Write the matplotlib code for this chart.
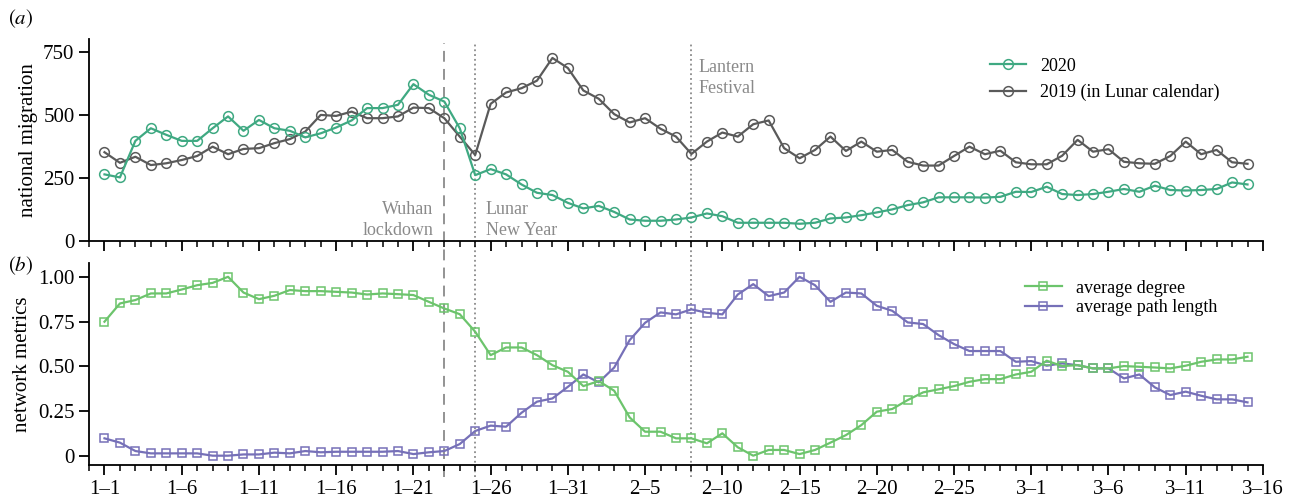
import matplotlib
matplotlib.use('Agg')
import matplotlib.pyplot as plt
from matplotlib.lines import Line2D
from matplotlib.transforms import blended_transform_factory
from matplotlib.ticker import MultipleLocator

plt.rcParams['font.family'] = ['Liberation Serif', 'DejaVu Serif']
plt.rcParams['mathtext.fontset'] = 'stix'

# dates 1-1 .. 3-15 (2020)
tick_labels = ['1–1', '1–6', '1–11', '1–16', '1–21', '1–26', '1–31', '2–5',
               '2–10', '2–15', '2–20', '2–25', '3–1', '3–6', '3–11', '3–16']

mig_2020 = [264, 252, 397, 447, 421, 397, 397, 447, 494, 437, 480, 447, 437, 411, 427,
            450, 478, 527, 527, 540, 622, 580, 553, 447, 261, 285, 264, 224, 191, 182,
            151, 129, 139, 115, 85, 80, 80, 85, 93, 109, 98, 72, 72, 72, 72,
            68, 72, 89, 93, 102, 113, 125, 142, 153, 173, 173, 173, 172, 175, 195,
            194, 215, 186, 182, 186, 195, 206, 195, 219, 202, 200, 202, 206, 232, 224]

mig_2019 = [352, 310, 334, 301, 308, 321, 337, 374, 344, 365, 368, 388, 404, 434, 500,
            496, 513, 487, 487, 494, 529, 527, 487, 414, 341, 544, 589, 606, 636, 726,
            686, 597, 564, 503, 470, 487, 445, 414, 345, 394, 430, 414, 463, 478, 368,
            328, 361, 414, 357, 394, 354, 361, 314, 299, 299, 337, 374, 344, 358, 312,
            304, 304, 338, 401, 354, 364, 314, 308, 306, 337, 394, 344, 361, 312, 306]

avg_degree = [0.749, 0.851, 0.870, 0.907, 0.907, 0.929, 0.953, 0.966, 1.0, 0.912,
              0.875, 0.894, 0.926, 0.920, 0.920, 0.916, 0.912, 0.901, 0.907, 0.903,
              0.898, 0.860, 0.823, 0.791, 0.693, 0.562, 0.605, 0.605, 0.562, 0.506,
              0.469, 0.389, 0.417, 0.363, 0.214, 0.134, 0.134, 0.097, 0.097, 0.069,
              0.125, 0.047, 0.0, 0.032, 0.032, 0.009, 0.032, 0.073, 0.115, 0.171,
              0.246, 0.261, 0.311, 0.354, 0.371, 0.389, 0.413, 0.428, 0.428, 0.454,
              0.469, 0.531, 0.501, 0.506, 0.488, 0.488, 0.501, 0.497, 0.493, 0.488,
              0.503, 0.525, 0.538, 0.538, 0.553]

avg_path = [0.097, 0.073, 0.026, 0.013, 0.013, 0.013, 0.013, 0.0, 0.0, 0.007,
            0.007, 0.017, 0.013, 0.026, 0.019, 0.022, 0.022, 0.022, 0.022, 0.026,
            0.009, 0.019, 0.026, 0.065, 0.138, 0.168, 0.162, 0.240, 0.302, 0.320,
            0.385, 0.454, 0.410, 0.493, 0.646, 0.743, 0.801, 0.790, 0.818, 0.799,
            0.790, 0.901, 0.959, 0.892, 0.912, 1.0, 0.953, 0.860, 0.912, 0.907,
            0.838, 0.810, 0.745, 0.736, 0.674, 0.624, 0.585, 0.585, 0.585, 0.525,
            0.529, 0.503, 0.516, 0.506, 0.488, 0.488, 0.432, 0.454, 0.382, 0.339,
            0.358, 0.335, 0.315, 0.315, 0.298]

days = list(range(len(mig_2020)))
events = [(22, 'Wuhan\nlockdown', (0, (6, 4))), (24, 'Lunar\nNew Year', ':'), (38, 'Lantern\nFestival', ':')]

c_2020 = '#3fa982'
c_2019 = '#5a5a5a'
c_deg = '#6cc46c'
c_path = '#7670b8'
c_event = '#8a8a8a'

fig = plt.figure(figsize=(12.96, 5.04), dpi=100)
ax1 = fig.add_axes([0.0687, 0.522, 0.9058, 0.400])
ax2 = fig.add_axes([0.0687, 0.0774, 0.9058, 0.400])

ax1.plot(days, mig_2020, color=c_2020, lw=1.6, marker='o', ms=7, mfc='none', mew=1.1,
         label='2020', zorder=3)
ax1.plot(days, mig_2019, color=c_2019, lw=1.6, marker='o', ms=7, mfc='none', mew=1.1,
         label='2019 (in Lunar calendar)', zorder=2)
ax1.set_ylim(0, 800)
ax1.set_yticks([0, 250, 500, 750])
ax1.set_ylabel('national migration', fontsize=15)
ax1.legend(loc='upper right', bbox_to_anchor=(0.977, 0.99), frameon=False, fontsize=13,
           handlelength=2.0)

ax2.plot(days, avg_degree, color=c_deg, lw=1.6, marker='s', ms=6, mfc='none', mew=1.1,
         label='average degree', zorder=3)
ax2.plot(days, avg_path, color=c_path, lw=1.6, marker='s', ms=6, mfc='none', mew=1.1,
         label='average path length', zorder=2)
ax2.set_ylim(-0.052, 1.075)
ax2.set_yticks([0, 0.25, 0.5, 0.75, 1.0])
ax2.set_yticklabels(['0', '0.25', '0.50', '0.75', '1.00'])
ax2.set_ylabel('network metrics', fontsize=15)
ax2.legend(loc='upper right', bbox_to_anchor=(0.975, 1.0), frameon=False, fontsize=13,
           handlelength=2.0, labelspacing=0.15)

for ax in (ax1, ax2):
    ax.set_facecolor('none')
    ax.set_xlim(-1, 75)
    ax.set_xticks(range(0, 76, 5))
    ax.xaxis.set_minor_locator(MultipleLocator(1))
    ax.spines['top'].set_visible(False)
    ax.spines['right'].set_visible(False)
    ax.spines['left'].set_linewidth(1.3)
    ax.spines['bottom'].set_linewidth(1.3)
    ax.tick_params(axis='both', which='major', length=7, width=1.3, labelsize=15)
    ax.tick_params(axis='x', which='minor', length=4.5, width=1.1)
ax1.set_xticklabels([])
ax2.set_xticklabels(tick_labels)

# event lines across both panels
trans = blended_transform_factory(ax1.transData, fig.transFigure)
for d, name, ls in events:
    fig.add_artist(Line2D([d, d], [0.054, 0.915], transform=trans, color=c_event,
                          lw=1.3, ls=ls, zorder=-1))
ax1.text(21.3, 8, events[0][1], ha='right', va='bottom', color=c_event, fontsize=13,
         linespacing=1.3)
ax1.text(24.7, 8, events[1][1], ha='left', va='bottom', color=c_event, fontsize=13,
         linespacing=1.3)
ax1.text(38.45, 720, events[2][1], ha='left', va='top', color=c_event, fontsize=13,
         linespacing=1.3)

fig.text(0.006, 0.963, r'$(a)$', fontsize=15, va='center')
fig.text(0.006, 0.472, r'$(b)$', fontsize=15, va='center')

fig.savefig('out.png', dpi=100)
